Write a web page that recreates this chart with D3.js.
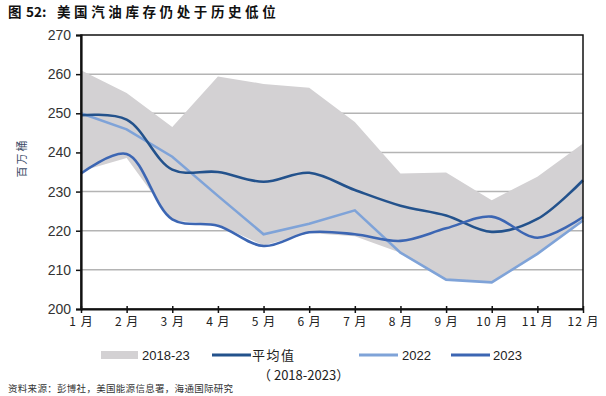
<!DOCTYPE html>
<html>
<head>
<meta charset="utf-8">
<script src="https://cdn.jsdelivr.net/npm/d3@7"></script>
<style>
  body { margin: 0; background: #fff; }
  svg { font-family: "Liberation Sans", "Noto Sans CJK SC", sans-serif; }
</style>
</head>
<body>
<div id="chart"></div>
<script>
// months and series (百万桶)
let months = ["1 月", "2 月", "3 月", "4 月", "5 月", "6 月", "7 月", "8 月", "9 月", "10 月", "11 月", "12 月"];
let bandHigh = [261, 255.2, 246.5, 259.4, 257.5, 256.5, 247.8, 234.6, 234.9, 227.8, 233.8, 242.3];
let bandLow = [235.2, 238.6, 222.6, 221.6, 216.2, 219.4, 218.6, 214.4, 207.5, 206.8, 214.1, 222.6];
let avgVals = [249.5, 248.4, 235.6, 235, 232.5, 234.8, 230.4, 226.4, 223.9, 219.7, 223, 232.9];
let y2022 = [250, 245.9, 238.9, 228.9, 219.1, 221.8, 225.2, 214.4, 207.5, 206.8, 214.1, 222.6];
let y2023 = [234.6, 239.6, 222.9, 221.3, 216.1, 219.6, 219.1, 217.4, 220.6, 223.6, 218.2, 223.5];
let yTicks = [200, 210, 220, 230, 240, 250, 260, 270];

let W = 606, H = 396;
let margin = { top: 35, right: 23, bottom: 87, left: 81 };
let width = W - margin.left - margin.right, height = H - margin.top - margin.bottom;

let svg = d3.select('#chart').append('svg')
  .attr('width', W).attr('height', H);

let title = svg.append('text')
  .attr('x', 8).attr('y', 17)
  .attr('font-size', 13.5).attr('font-weight', 'bold').attr('fill', '#111')
  .attr('font-family', '"Noto Sans CJK SC", sans-serif');
title.append('tspan').text('图');
title.append('tspan').attr('x', 26).text('52:');
title.append('tspan').attr('x', 57).attr('letter-spacing', 3.6).text('美国汽油库存仍处于历史低位');

let g = svg.append('g').attr('transform', 'translate(' + margin.left + ',' + margin.top + ')');

let xS = d3.scalePoint().domain(months).range([0, width]);
let yS = d3.scaleLinear().domain([200, 270]).range([height, 0]);

// grid
g.selectAll('line.grid').data(yTicks.slice(1, -1)).enter().append('line')
  .attr('x1', 0).attr('x2', width)
  .attr('y1', d => yS(d)).attr('y2', d => yS(d))
  .attr('stroke', '#b4b4b4').attr('stroke-width', 1.5);

// band 2018-23
let area = d3.area()
  .x((d, i) => xS(months[i]))
  .y0((d, i) => yS(bandLow[i]))
  .y1(d => yS(d));
g.append('path').datum(bandHigh).attr('d', area).attr('fill', '#d3d1d3');

let smooth = d3.line().x((d, i) => xS(months[i])).y(d => yS(d)).curve(d3.curveCatmullRom.alpha(0.5));
let straight = d3.line().x((d, i) => xS(months[i])).y(d => yS(d));

g.append('path').datum(y2022).attr('d', straight)
  .attr('fill', 'none').attr('stroke', '#7fa3d8').attr('stroke-width', 2.6);
g.append('path').datum(avgVals).attr('d', smooth)
  .attr('fill', 'none').attr('stroke', '#23528c').attr('stroke-width', 2.6);
g.append('path').datum(y2023).attr('d', smooth)
  .attr('fill', 'none').attr('stroke', '#3c66b3').attr('stroke-width', 2.6);

// frame
g.append('rect').attr('width', width).attr('height', height)
  .attr('fill', 'none').attr('stroke', '#111').attr('stroke-width', 1.5);

let yAxis = g.append('g')
  .call(d3.axisLeft(yS).tickValues(yTicks).tickSize(5).tickPadding(5));
yAxis.select('.domain').attr('stroke', '#111').attr('stroke-width', 2.2);
yAxis.selectAll('.tick line').attr('stroke', '#111').attr('stroke-width', 1.5);
yAxis.selectAll('text').attr('font-size', 14).attr('fill', '#333')
  .attr('font-family', '"Liberation Sans", sans-serif');

let xAxis = g.append('g').attr('transform', 'translate(0,' + height + ')')
  .call(d3.axisBottom(xS).tickSizeInner(4).tickSizeOuter(0).tickPadding(4));
xAxis.select('.domain').attr('stroke', '#111').attr('stroke-width', 2.2);
xAxis.selectAll('.tick line').attr('stroke', '#111').attr('stroke-width', 1.5).attr('y1', -3);
xAxis.selectAll('text').attr('font-size', 12).attr('fill', '#222').attr('letter-spacing', 1)
  .attr('font-family', '"Noto Sans CJK SC", sans-serif');

svg.append('text')
  .attr('transform', 'translate(26,158) rotate(-90)')
  .attr('text-anchor', 'middle').attr('font-size', 11).attr('fill', '#3a4a66')
  .attr('letter-spacing', 2)
  .attr('font-family', '"Noto Sans CJK SC", sans-serif')
  .text('百万桶');

// legend
let lg = svg.append('g').attr('font-size', 13).attr('fill', '#222');
lg.append('rect').attr('x', 101).attr('y', 351).attr('width', 37).attr('height', 8).attr('fill', '#d3d1d3');
lg.append('text').attr('x', 142).attr('y', 360).text('2018-23');
lg.append('line').attr('x1', 212).attr('x2', 251).attr('y1', 355).attr('y2', 355)
  .attr('stroke', '#23528c').attr('stroke-width', 3);
lg.append('text').attr('x', 252).attr('y', 360).attr('letter-spacing', 1.5)
  .attr('font-family', '"Noto Sans CJK SC", sans-serif').text('平均值');
lg.append('text').attr('x', 258).attr('y', 380)
  .attr('font-family', '"Noto Sans CJK SC", sans-serif').text('（ 2018-2023）');
lg.append('line').attr('x1', 359).attr('x2', 398).attr('y1', 355).attr('y2', 355)
  .attr('stroke', '#7fa3d8').attr('stroke-width', 3);
lg.append('text').attr('x', 402).attr('y', 360).text('2022');
lg.append('line').attr('x1', 451).attr('x2', 490).attr('y1', 355).attr('y2', 355)
  .attr('stroke', '#3c66b3').attr('stroke-width', 3);
lg.append('text').attr('x', 493).attr('y', 360).text('2023');

svg.append('text')
  .attr('x', 8).attr('y', 392)
  .attr('font-size', 9.5).attr('fill', '#333').attr('letter-spacing', 0.3)
  .attr('font-family', '"Noto Sans CJK SC", sans-serif')
  .text('资料来源：彭博社，美国能源信息署，海通国际研究');
</script>
</body>
</html>
